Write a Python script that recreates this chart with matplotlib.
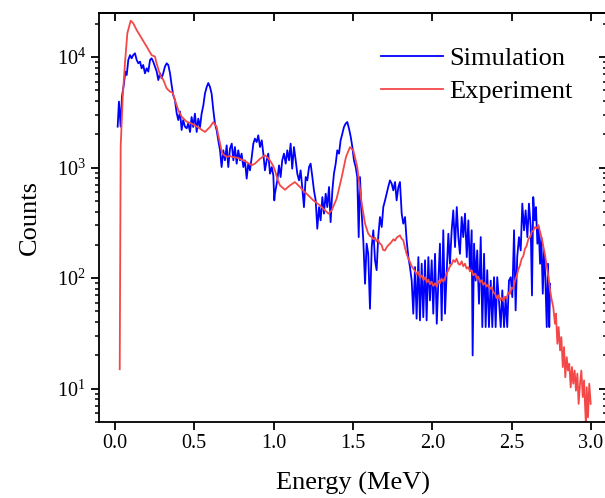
import matplotlib
matplotlib.use('Agg')
import matplotlib.pyplot as plt
from matplotlib.ticker import LogLocator, LogFormatterMathtext, MultipleLocator, NullLocator, NullFormatter

plt.rcParams['font.family'] = ['Liberation Serif', 'DejaVu Serif']
plt.rcParams['mathtext.fontset'] = 'custom'
plt.rcParams['mathtext.rm'] = 'Liberation Serif'
plt.rcParams['mathtext.it'] = 'Liberation Serif:italic'

# simulated spectrum (MeV, counts)
sim_energy = [
    0.017, 0.025, 0.036, 0.044, 0.057, 0.065, 0.074, 0.084, 0.095, 0.105,
    0.115, 0.126, 0.137, 0.147, 0.158, 0.168, 0.178, 0.189, 0.200, 0.210,
    0.221, 0.231, 0.241, 0.252, 0.263, 0.273, 0.284, 0.294, 0.304, 0.315,
    0.326, 0.336, 0.347, 0.357, 0.367, 0.378, 0.389, 0.399, 0.410, 0.420,
    0.430, 0.441, 0.452, 0.462, 0.473, 0.483, 0.493, 0.504, 0.515, 0.525,
    0.536, 0.546, 0.557, 0.567, 0.578, 0.588, 0.599, 0.609, 0.620, 0.630,
    0.641, 0.651, 0.662, 0.672, 0.683, 0.693, 0.704, 0.714, 0.725, 0.736,
    0.746, 0.756, 0.767, 0.777, 0.788, 0.798, 0.809, 0.819, 0.830, 0.840,
    0.851, 0.862, 0.872, 0.882, 0.893, 0.903, 0.914, 0.925, 0.935, 0.945,
    0.956, 0.966, 0.977, 0.988, 0.998, 1.004, 1.008, 1.023, 1.034, 1.044,
    1.054, 1.065, 1.076, 1.086, 1.097, 1.107, 1.117, 1.128, 1.139, 1.149,
    1.160, 1.170, 1.180, 1.191, 1.202, 1.212, 1.223, 1.233, 1.244, 1.254,
    1.265, 1.275, 1.286, 1.296, 1.307, 1.317, 1.328, 1.338, 1.349, 1.359,
    1.370, 1.380, 1.391, 1.401, 1.412, 1.422, 1.433, 1.443, 1.454, 1.464,
    1.475, 1.486, 1.496, 1.506, 1.517, 1.527, 1.536, 1.544, 1.555, 1.565,
    1.576, 1.586, 1.596, 1.607, 1.618, 1.628, 1.639, 1.649, 1.659, 1.670,
    1.681, 1.691, 1.702, 1.712, 1.722, 1.733, 1.744, 1.754, 1.765, 1.775,
    1.786, 1.796, 1.807, 1.817, 1.828, 1.838, 1.849, 1.859, 1.870, 1.880,
    1.891, 1.901, 1.912, 1.922, 1.933, 1.943, 1.954, 1.964, 1.975, 1.985,
    1.996, 2.006, 2.017, 2.028, 2.038, 2.048, 2.059, 2.069, 2.080, 2.091,
    2.101, 2.111, 2.122, 2.132, 2.143, 2.154, 2.164, 2.174, 2.185, 2.195,
    2.206, 2.217, 2.227, 2.237, 2.248, 2.254, 2.263, 2.273, 2.283, 2.294,
    2.305, 2.315, 2.326, 2.336, 2.346, 2.357, 2.368, 2.378, 2.389, 2.399,
    2.409, 2.420, 2.431, 2.441, 2.452, 2.462, 2.472, 2.483, 2.494, 2.504,
    2.515, 2.525, 2.535, 2.546, 2.557, 2.567, 2.578, 2.588, 2.599, 2.609,
    2.620, 2.628, 2.636, 2.645, 2.653, 2.662, 2.670, 2.679, 2.687, 2.696,
    2.704, 2.712, 2.721, 2.729, 2.737, 2.742,
]
sim_counts = [
    2345, 3950, 2345, 4380, 5780, 7380, 6870, 9400, 10400, 9730,
    10400, 10800, 9400, 8770, 9080, 7900, 8470, 7120, 7900, 7380,
    9400, 9730, 9080, 8190, 7380, 6190, 7120, 6420, 7120, 8190,
    8770, 8470, 7120, 5580, 4530, 4080, 3095, 2690, 3205, 2185,
    2690, 2345, 2265, 2513, 2097, 2865, 2327, 3075, 2097, 2771,
    2327, 3075, 3656, 4666, 5353, 5818, 5353, 4666, 3294, 2500,
    2172, 1764, 1432, 1011, 1432, 1163, 1589, 1011, 1484, 1647,
    1163, 1534, 1085, 1432, 1163, 1337, 1011, 1163, 794, 1085,
    944, 1246, 1647, 1827, 1702, 1957, 1534, 1764, 1337, 944,
    1163, 1337, 881, 1011, 851, 505, 581, 766, 1047, 821,
    1163, 1337, 1085, 1432, 1163, 1647, 978, 1534, 1163, 881,
    766, 944, 667, 439, 821, 766, 1011, 1085, 821, 622,
    505, 280, 439, 333, 541, 383, 581, 439, 667, 321,
    622, 881, 1085, 1432, 1337, 1764, 2028, 2327, 2500, 2582,
    2250, 1889, 1534, 1163, 1011, 821, 235, 821, 383, 220,
    89, 205, 166, 52.9, 191, 271, 145, 118, 235, 357,
    290, 439, 505, 581, 667, 766, 715, 622, 740, 505,
    667, 740, 383, 311, 357, 220, 155, 126, 95, 47.7,
    126, 43, 155, 41.5, 135, 44.4, 145, 41.5, 155, 62.9,
    145, 47.7, 166, 38.7, 95, 205, 41.5, 271, 47.7, 118,
    252, 135, 271, 410, 191, 439, 235, 166, 357, 235,
    383, 155, 333, 118, 271, 20.0, 205, 95, 178, 58.7,
    235, 36.1, 166, 36.1, 118, 36.1, 95, 36.1, 102, 36.1,
    102, 62.9, 36.1, 77.5, 36.1, 67.4, 36.1, 95, 102, 67.4,
    271, 51.1, 155, 235, 178, 472, 271, 410, 235, 472,
    290, 69.8, 541, 333, 439, 205, 290, 135, 235, 72.3,
    178, 102, 36.1, 135, 36.1, 89,
]

# measured spectrum (MeV, counts)
exp_energy = [
    0.030, 0.036, 0.049, 0.063, 0.078, 0.099, 0.115, 0.137, 0.168, 0.200,
    0.231, 0.252, 0.262, 0.284, 0.305, 0.326, 0.347, 0.364, 0.378, 0.399,
    0.420, 0.452, 0.483, 0.510, 0.536, 0.567, 0.599, 0.620, 0.641, 0.651,
    0.662, 0.676, 0.704, 0.725, 0.746, 0.768, 0.788, 0.810, 0.830, 0.862,
    0.882, 0.914, 0.945, 0.962, 0.977, 0.998, 1.008, 1.025, 1.040, 1.071,
    1.103, 1.134, 1.166, 1.190, 1.208, 1.230, 1.250, 1.270, 1.292, 1.324,
    1.345, 1.366, 1.397, 1.429, 1.456, 1.481, 1.502, 1.527, 1.555, 1.576,
    1.596, 1.608, 1.618, 1.628, 1.639, 1.648, 1.658, 1.670, 1.680, 1.690,
    1.702, 1.712, 1.722, 1.733, 1.745, 1.755, 1.765, 1.775, 1.786, 1.796,
    1.806, 1.817, 1.828, 1.838, 1.849, 1.859, 1.870, 1.880, 1.891, 1.900,
    1.910, 1.922, 1.933, 1.944, 1.955, 1.965, 1.975, 1.985, 1.995, 2.006,
    2.017, 2.028, 2.038, 2.048, 2.058, 2.069, 2.080, 2.090, 2.101, 2.111,
    2.122, 2.132, 2.143, 2.153, 2.164, 2.174, 2.185, 2.195, 2.206, 2.216,
    2.227, 2.237, 2.248, 2.258, 2.269, 2.280, 2.290, 2.300, 2.311, 2.321,
    2.332, 2.342, 2.352, 2.363, 2.374, 2.385, 2.395, 2.405, 2.416, 2.426,
    2.436, 2.447, 2.458, 2.468, 2.479, 2.489, 2.500, 2.510, 2.521, 2.531,
    2.542, 2.552, 2.563, 2.573, 2.584, 2.594, 2.605, 2.616, 2.626, 2.636,
    2.647, 2.658, 2.668, 2.679, 2.690, 2.700, 2.710, 2.721, 2.732, 2.742,
    2.752, 2.762, 2.773, 2.779, 2.788, 2.796, 2.805, 2.813, 2.822, 2.830,
    2.838, 2.847, 2.855, 2.863, 2.872, 2.880, 2.888, 2.897, 2.905, 2.914,
    2.922, 2.931, 2.939, 2.948, 2.956, 2.964, 2.968, 2.973, 2.981, 2.989,
    2.998,
]
exp_counts = [
    15, 1550, 4400, 8800, 16400, 21300, 20200, 17500, 14800, 12400,
    10400, 10100, 8800, 6900, 6200, 5200, 4860, 4760, 4080, 3310,
    2890, 2600, 2500, 2380, 2250, 2100, 2330, 2580, 2330, 1960,
    1650, 1340, 1250, 1270, 1240, 1230, 1200, 1160, 1120, 1050,
    1085, 1200, 1290, 1230, 1160, 1030, 944, 780, 690, 630,
    690, 740, 667, 610, 580, 540, 505, 480, 455, 410,
    383, 410, 524, 820, 1250, 1530, 1430, 1010, 472, 311,
    253, 240, 236, 225, 232, 215, 222, 205, 200, 180,
    178, 190, 198, 205, 215, 225, 218, 232, 238, 244,
    228, 220, 188, 166, 150, 140, 128, 122, 116, 108,
    114, 102, 106, 96, 102, 92, 97, 88, 93, 85,
    90, 84, 94, 90, 99, 93, 100, 110, 118, 128,
    134, 146, 140, 150, 135, 132, 142, 128, 135, 122,
    126, 115, 118, 106, 110, 100, 103, 92, 96, 87,
    91, 84, 87, 80, 83, 74, 73, 66, 70, 63,
    67, 62, 68, 66, 74, 72, 82, 80, 95, 104,
    120, 130, 150, 158, 185, 195, 225, 235, 262, 268,
    290, 282, 302, 262, 228, 191, 162, 128, 102, 78,
    64, 54.7, 38.7, 47.7, 25.5, 36.1, 22.2, 29.3, 15.7, 23.8,
    12.7, 19.3, 14.6, 16.8, 10.3, 15.7, 11.1, 14.6, 9.6, 13.7,
    7.3, 11.1, 14.6, 8.4, 11.9, 6.4, 4.6, 10.3, 5.5, 11.1,
    7.3,
]

fig = plt.figure(figsize=(6.05, 4.98), dpi=100)
ax = fig.add_axes([0.1638, 0.1526, 0.8393, 0.8213])

ax.plot(sim_energy, sim_counts, color='#0000ff', lw=1.3, label='Simulation')
ax.plot(exp_energy, exp_counts, color='#f44848', lw=1.3, label='Experiment')

ax.set_yscale('log')
ax.set_xlim(-0.1, 3.1)
ax.set_ylim(5, 25000)

ax.xaxis.set_major_locator(MultipleLocator(0.5))
ax.xaxis.set_minor_locator(NullLocator())
ax.xaxis.set_major_formatter(plt.FuncFormatter(lambda v, p: '%.1f' % v))
ax.yaxis.set_major_locator(LogLocator(base=10))
ax.yaxis.set_minor_locator(LogLocator(base=10, subs=range(2, 10)))
ax.yaxis.set_major_formatter(LogFormatterMathtext())
ax.yaxis.set_minor_formatter(NullFormatter())

for s in ax.spines.values():
    s.set_linewidth(1.3)
ax.tick_params(axis='both', which='major', labelsize=14.5, width=1.3, length=6, direction='out')
ax.tick_params(axis='x', which='major', pad=2.5)
ax.tick_params(axis='both', which='minor', width=1.1, length=3, direction='out')

# mirrored ticks on top and right, pointing inward
top = ax.secondary_xaxis('top')
top.xaxis.set_major_locator(MultipleLocator(0.5))
top.tick_params(direction='in', length=6, width=1.3, labeltop=False)
top.spines['top'].set_linewidth(1.3)
right = ax.secondary_yaxis('right')
right.set_yscale('log')
right.yaxis.set_major_locator(LogLocator(base=10))
right.yaxis.set_minor_locator(LogLocator(base=10, subs=range(2, 10)))
right.tick_params(which='major', direction='in', length=6, width=1.3, labelright=False)
right.tick_params(which='minor', direction='in', length=3, width=1.1)
right.yaxis.set_minor_formatter(NullFormatter())

ax.set_xlabel('Energy (MeV)', fontsize=19)
ax.set_ylabel('Counts', fontsize=19)
ax.xaxis.set_label_coords(0.5, -0.122)
ax.yaxis.set_label_coords(-0.115, 0.5)

ax.legend(loc='upper left', bbox_to_anchor=(0.5546, 0.918), frameon=False,
          borderpad=0, borderaxespad=0, handlelength=2.35, handletextpad=0.25,
          labelspacing=0.36, fontsize=19)

plt.savefig('out.png', dpi=100)
